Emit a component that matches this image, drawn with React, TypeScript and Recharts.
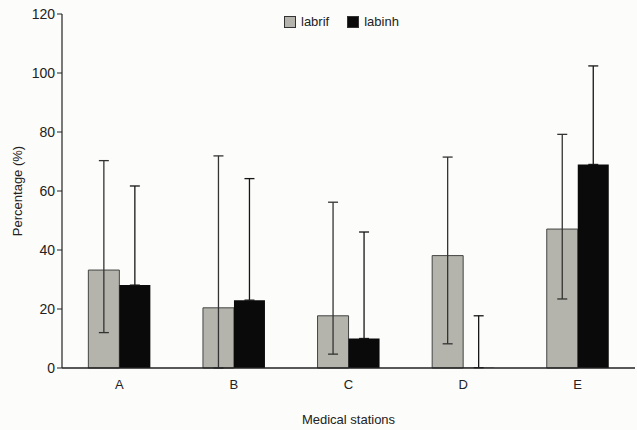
import React from "react";
import { BarChart, Bar, XAxis, YAxis, ErrorBar, Legend } from "recharts";

const stations = ["A", "B", "C", "D", "E"];
const labrif = [33.2, 20.4, 17.7, 38.1, 47.1];
const labrifLow = [12, 0, 4.7, 8.2, 23.4];
const labrifHigh = [70.3, 71.9, 56.2, 71.5, 79.2];
const labinh = [28.1, 23, 10, 0.1, 69];
const labinhLow = [28.1, 23, 10, 0.1, 69];
const labinhHigh = [61.7, 64.2, 46.1, 17.7, 102.4];
const yTicks = [0, 20, 40, 60, 80, 100, 120];
const seriesOrder = ["labrif", "labinh"];

const data = stations.map((s, i) => ({
  station: s,
  labrif: labrif[i],
  labrifErr: [labrif[i] - labrifLow[i], labrifHigh[i] - labrif[i]],
  labinh: labinh[i],
  labinhErr: [labinh[i] - labinhLow[i], labinhHigh[i] - labinh[i]],
}));

const font = "'Liberation Sans', Arial, sans-serif";

const LegendBox = (props: any) => {
  const items = props.payload || [];
  const sorted = seriesOrder
    .map((name) => items.find((it: any) => it.value === name))
    .filter(Boolean);
  return (
    <div style={{ display: "flex", alignItems: "center", fontFamily: font, fontSize: 13, color: "#222" }}>
      {sorted.map((it: any) => (
        <div key={it.value} style={{ display: "flex", alignItems: "center", marginRight: 18 }}>
          <span
            style={{
              display: "inline-block",
              width: 10,
              height: 10,
              background: it.color,
              border: "1px solid #333",
              marginRight: 5,
            }}
          />
          <span>{it.value}</span>
        </div>
      ))}
    </div>
  );
};

export default function App() {
  return (
    <div style={{ position: "absolute", left: 0, top: 0, width: 637, height: 430, background: "#fcfcfa" }}>
      <BarChart
        width={637}
        height={430}
        data={data}
        margin={{ top: 14, right: 2, bottom: 12, left: 0 }}
        barCategoryGap="23%"
        barGap={0}
      >
        <XAxis
          dataKey="station"
          height={50}
          tickLine={false}
          axisLine={{ stroke: "#222", strokeWidth: 1.5 }}
          tick={{ fill: "#222", fontSize: 13, fontFamily: font }}
          tickMargin={6}
          label={{ value: "Medical stations", position: "insideBottom", offset: -6, fill: "#222", fontSize: 13, fontFamily: font }}
        />
        <YAxis
          width={62}
          domain={[0, 120]}
          ticks={yTicks}
          interval={0}
          tickSize={5}
          axisLine={{ stroke: "#222", strokeWidth: 1.2 }}
          tickLine={{ stroke: "#222" }}
          tick={{ fill: "#222", fontSize: 14, fontFamily: font }}
          label={{
            value: "Percentage (%)",
            angle: -90,
            position: "insideLeft",
            offset: 17,
            style: { textAnchor: "middle" },
            fill: "#222",
            fontSize: 13,
            fontFamily: font,
          }}
        />
        <Legend
          layout="horizontal"
          verticalAlign="middle"
          align="center"
          content={<LegendBox />}
          wrapperStyle={{ top: 14, left: 284, width: "auto", height: "auto" }}
        />
        <Bar dataKey="labrif" name="labrif" fill="#b4b4ac" stroke="#444" strokeWidth={1} isAnimationActive={false}>
          <ErrorBar dataKey="labrifErr" width={5} stroke="#333" strokeWidth={1.3} isAnimationActive={false} />
        </Bar>
        <Bar dataKey="labinh" name="labinh" fill="#0a0a0a" isAnimationActive={false}>
          <ErrorBar dataKey="labinhErr" width={5} stroke="#161616" strokeWidth={1.3} isAnimationActive={false} />
        </Bar>
      </BarChart>
    </div>
  );
}
